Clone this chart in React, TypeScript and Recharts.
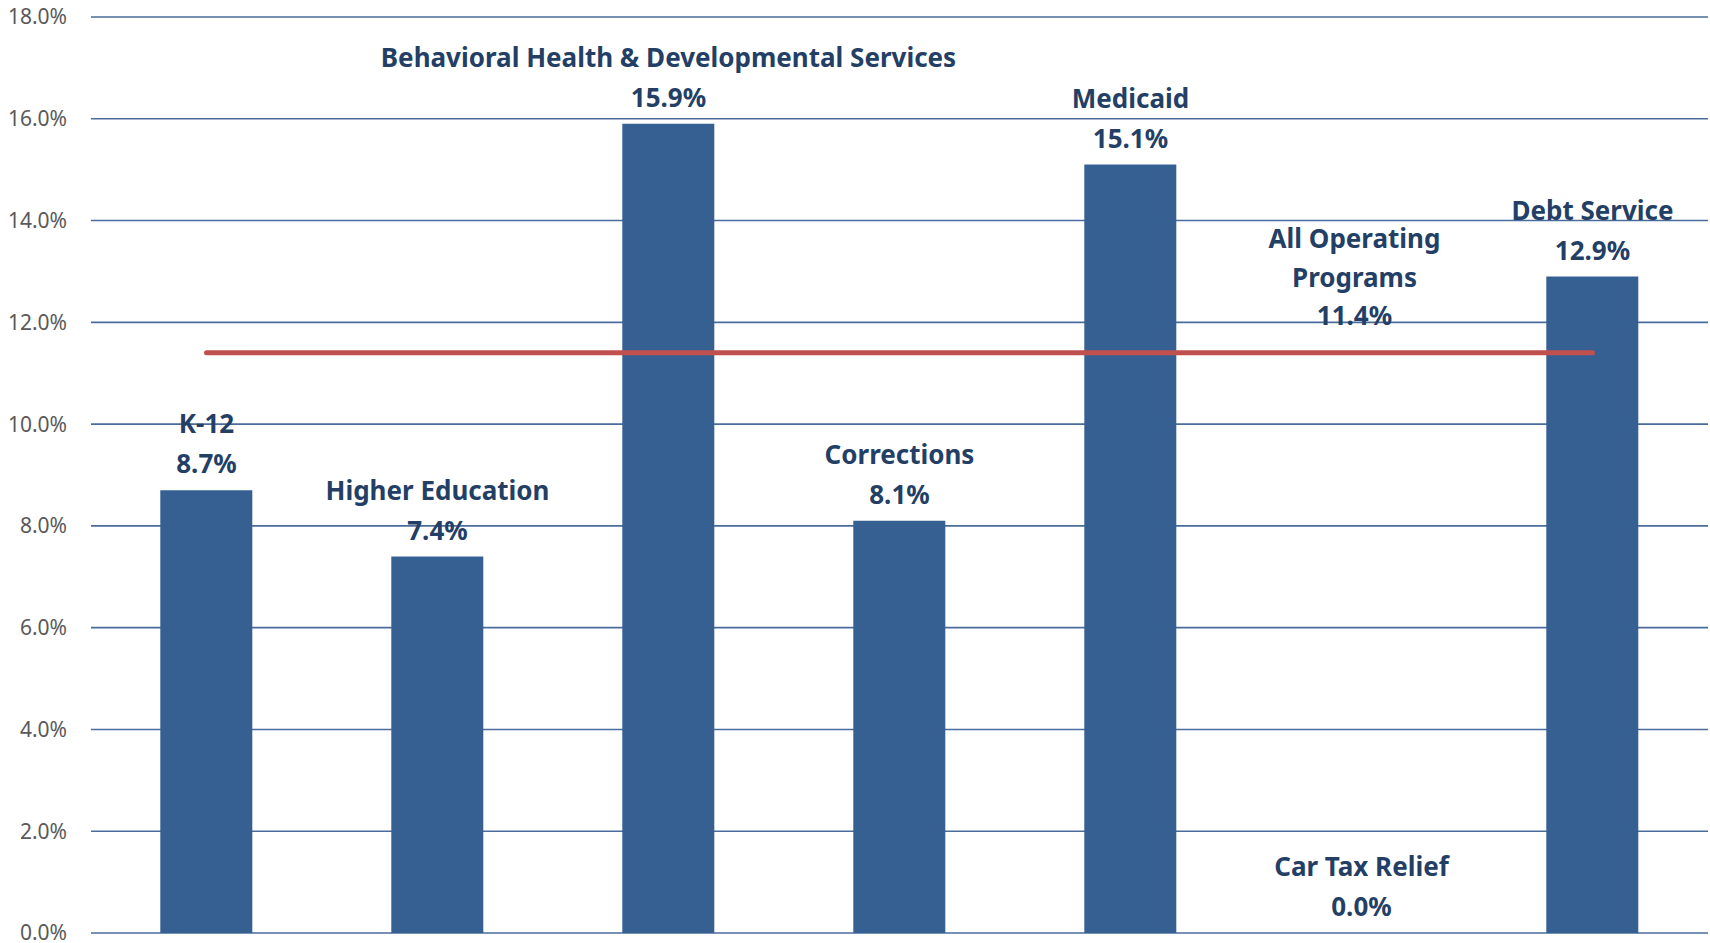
import React from 'react';
import { ComposedChart, Bar, Line, XAxis, YAxis, CartesianGrid } from 'recharts';

const categories = [
  'K-12',
  'Higher Education',
  'Behavioral Health & Developmental Services',
  'Corrections',
  'Medicaid',
  'Car Tax Relief',
  'Debt Service',
];
const growthValues = [8.7, 7.4, 15.9, 8.1, 15.1, 0.0, 12.9];
const allOperatingValue = 11.4;
const allOperatingLine = [11.4, 11.4, 11.4, 11.4, 11.4, 11.4, 11.4];
const allOperatingLabel = ['All Operating', 'Programs'];
const yTicks = [0, 2, 4, 6, 8, 10, 12, 14, 16, 18];

const data = categories.map((name, i) => ({
  name,
  value: growthValues[i],
  avg: allOperatingLine[i],
}));

const LABEL_COLOR = '#243F66';
const FONT = '"Noto Sans", sans-serif';
const LABEL_SIZE = 26;

const BarLabel = (props: any) => {
  const { x, y, index } = props;
  const cx = Number(x);
  const top = Number(y);
  return (
    <g key={`bl-${index}`}>
      <text x={cx} y={top - 66} dy="0.35em" textAnchor="middle" fill={LABEL_COLOR}
        fontFamily={FONT} fontWeight={700} fontSize={LABEL_SIZE}>{categories[index]}</text>
      <text x={cx} y={top - 26} dy="0.35em" textAnchor="middle" fill={LABEL_COLOR}
        fontFamily={FONT} fontWeight={700} fontSize={LABEL_SIZE}>{`${growthValues[index].toFixed(1)}%`}</text>
    </g>
  );
};

const LineLabel = (props: any) => {
  const { x, y, index } = props;
  if (index !== 5) return <g key={`ll-${index}`} />;
  const cx = Number(x) - 7;
  const cy = Number(y);
  const texts = [...allOperatingLabel, `${allOperatingValue.toFixed(1)}%`];
  const offs = [-114, -75, -37];
  return (
    <g key={`ll-${index}`}>
      {texts.map((t, i) => (
        <text key={i} x={cx} y={cy + offs[i]} dy="0.35em" textAnchor="middle" fill={LABEL_COLOR}
          fontFamily={FONT} fontWeight={700} fontSize={LABEL_SIZE}>{t}</text>
      ))}
    </g>
  );
};

export default function App() {
  return (
    <div style={{ position: 'absolute', left: 0, top: 0, width: 1710, height: 943, background: '#fff' }}>
      <ComposedChart width={1710} height={943} data={data}
        margin={{ top: 17, right: 2, bottom: 10, left: 0 }} barCategoryGap="30%">
        <CartesianGrid vertical={false} stroke="#4A6C9B" strokeWidth={1.6} />
        <XAxis dataKey="name" hide />
        <YAxis domain={[0, 18]} ticks={yTicks} width={91} axisLine={false} tickLine={false}
          tickSize={0} tickMargin={24} interval={0}
          tick={{ fill: '#595959', fontSize: 21, fontFamily: FONT }}
          tickFormatter={(v: number) => `${v.toFixed(1)}%`} />
        <Bar dataKey="value" fill="#366092" isAnimationActive={false} />
        <Line dataKey="value" stroke="none" dot={false} activeDot={false} legendType="none"
          isAnimationActive={false} label={BarLabel} />
        <Line dataKey="avg" stroke="#C0504D" strokeWidth={5} strokeLinecap="round" dot={false}
          activeDot={false} isAnimationActive={false} label={LineLabel} />
      </ComposedChart>
    </div>
  );
}
